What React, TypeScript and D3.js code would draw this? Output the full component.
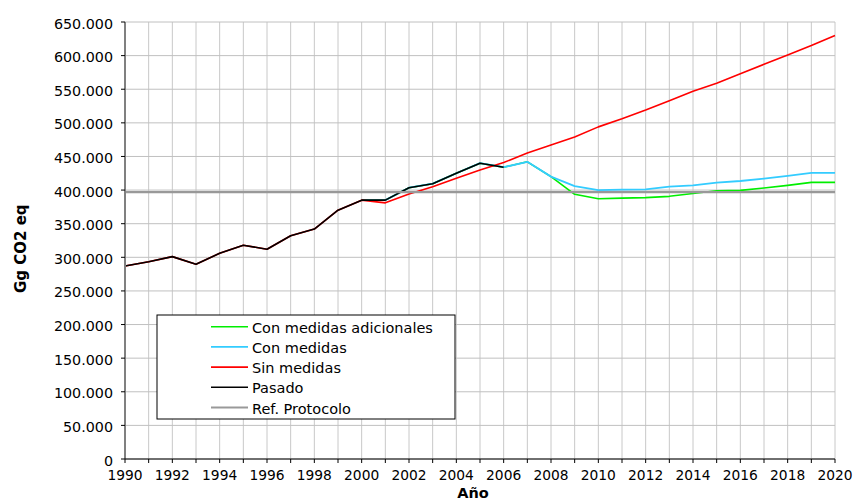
import React from "react";
import * as d3 from "d3";

const years = d3.range(1990, 2021);
const yTicks = [0, 50000, 100000, 150000, 200000, 250000, 300000, 350000, 400000, 450000, 500000, 550000, 600000, 650000];
const xLabelYears = d3.range(1990, 2021, 2);

// Gg CO2 eq, one value per year 1990..2020 (null = no data)
const pasado: (number | null)[] = [
  287000, 293500, 301000, 289600, 306000, 318000, 312000, 332000, 342000, 370000,
  385000, 385000, 403500, 409500, 425000, 440000, 434000,
  null, null, null, null, null, null, null, null, null, null, null, null, null, null,
];
const sinMedidas: (number | null)[] = [
  287000, 293500, 301000, 289600, 306000, 318000, 312000, 332000, 342000, 370000,
  385000, 381000, 394000, 405000, 417500, 430000, 441000, 455000, 467000, 479000,
  494000, 506000, 519000, 533000, 547000, 559000, 573000, 587000, 601000, 615000, 630000,
];
const conMedidas: (number | null)[] = [
  null, null, null, null, null, null, null, null, null, null,
  385000, 385000, 403500, 409500, 425000, 440000, 434000, 442000, 420000, 406000,
  400000, 400600, 401000, 405000, 407000, 411000, 413500, 417000, 421000, 425500, 425500,
];
const conMedidasAdicionales: (number | null)[] = [
  null, null, null, null, null, null, null, null, null, null,
  385000, 385000, 403500, 409500, 425000, 440000, 434000, 442000, 420000, 393700,
  387000, 388000, 388800, 390700, 395000, 399000, 399600, 403000, 407000, 411500, 411500,
];
const refProtocolo: number[] = years.map(() => 397000);

const seriesNames = ["Con medidas adicionales", "Con medidas", "Sin medidas", "Pasado", "Ref. Protocolo"];
const seriesColors = ["#00ee00", "#33ccff", "#ff0000", "#000000", "#999999"];
const seriesData = [conMedidasAdicionales, conMedidas, sinMedidas, pasado, refProtocolo];
const seriesWidths = [1.6, 1.8, 1.6, 1.6, 2.2];

const locale = d3.formatLocale({ decimal: ",", thousands: ".", grouping: [3], currency: ["", "€"] });
const fmt = locale.format(",d");

export default function App() {
  const x = d3.scaleLinear().domain([1990, 2020]).range([125, 835]);
  const y = d3.scaleLinear().domain([0, 650000]).range([459, 22]);
  const font = "'DejaVu Sans', Verdana, sans-serif";

  const line = d3
    .line<number | null>()
    .defined((d) => d !== null)
    .x((_, i) => x(years[i]))
    .y((d) => y(d as number));

  const legendX = 157, legendY = 315, legendW = 298, legendH = 104;
  const rowY = (i: number) => 326.7 + i * 20.2;

  return (
    <svg
      width={855}
      height={500}
      style={{ position: "absolute", left: 0, top: 0, background: "#fff" }}
      fontFamily={font}
    >
      <rect x={0} y={0} width={855} height={500} fill="#fff" />
      {/* grid */}
      {years.map((yr) => (
        <line key={"vg" + yr} x1={x(yr)} x2={x(yr)} y1={y(650000)} y2={y(0)} stroke="#c8c8c8" strokeWidth={1} />
      ))}
      {yTicks.map((t) => (
        <line key={"hg" + t} x1={x(1990)} x2={x(2020)} y1={y(t)} y2={y(t)} stroke="#c0c0c0" strokeWidth={1} />
      ))}
      {/* series */}
      {seriesData.map((s, i) => (
        <path key={seriesNames[i]} d={line(s) || ""} fill="none" stroke={seriesColors[i]} strokeWidth={seriesWidths[i]} strokeLinejoin="round" />
      ))}
      {/* axes */}
      <line x1={x(1990)} x2={x(1990)} y1={y(650000)} y2={y(0)} stroke="#808080" strokeWidth={2} />
      <line x1={x(1990)} x2={x(2020)} y1={y(0)} y2={y(0)} stroke="#000" strokeWidth={1.2} />
      {yTicks.map((t) => (
        <g key={"yt" + t}>
          <line x1={x(1990) - 4} x2={x(1990)} y1={y(t)} y2={y(t)} stroke="#000" strokeWidth={1} />
          <text x={113} y={y(t) + 1.5} textAnchor="end" dominantBaseline="central" fontSize={14.3} fill="#000">
            {fmt(t)}
          </text>
        </g>
      ))}
      {years.map((yr) => (
        <line key={"xt" + yr} x1={x(yr)} x2={x(yr)} y1={y(0)} y2={y(0) + 4} stroke="#000" strokeWidth={1} />
      ))}
      {xLabelYears.map((yr) => (
        <text key={"xl" + yr} x={x(yr)} y={480} textAnchor="middle" fontSize={13.8} fill="#000">
          {yr}
        </text>
      ))}
      {/* axis titles */}
      <text x={473} y={497.5} textAnchor="middle" fontSize={14.5} fontWeight="bold" fill="#000">
        Año
      </text>
      <text
        transform={`translate(21, 248.7) rotate(-90)`}
        textAnchor="middle"
        dominantBaseline="central"
        fontSize={15}
        fontWeight="bold"
        fill="#000"
      >
        Gg CO2 eq
      </text>
      {/* legend */}
      <rect x={legendX} y={legendY} width={legendW} height={legendH} fill="#fff" stroke="#000" strokeWidth={1} />
      {seriesNames.map((n, i) => (
        <g key={"lg" + n}>
          <line x1={211} x2={248} y1={rowY(i)} y2={rowY(i)} stroke={seriesColors[i]} strokeWidth={seriesWidths[i]} />
          <text x={252} y={rowY(i) + 1} dominantBaseline="central" fontSize={14.5} fill="#000">
            {n}
          </text>
        </g>
      ))}
    </svg>
  );
}
